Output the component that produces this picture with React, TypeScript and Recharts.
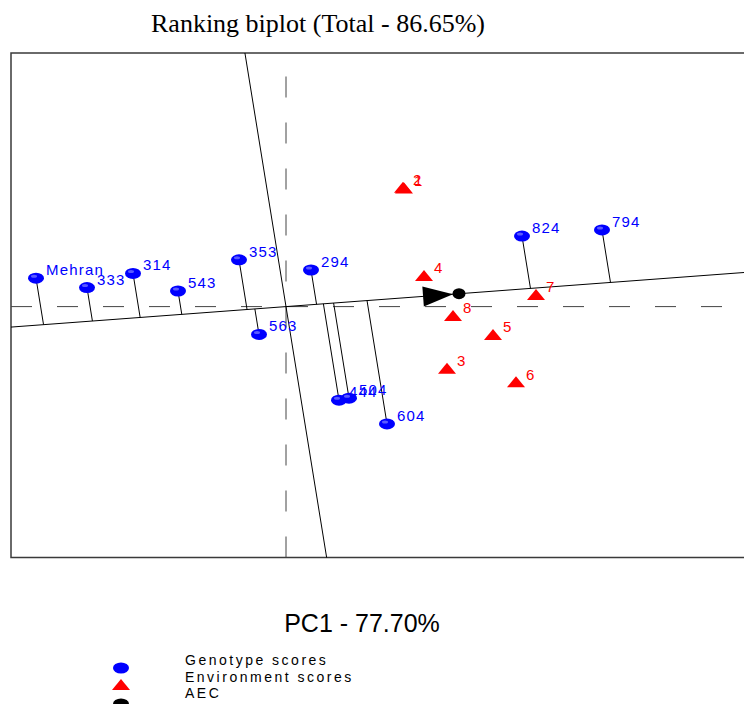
import React from "react"
import {
  ComposedChart,
  ReferenceArea,
  ReferenceLine,
  Scatter,
  XAxis,
  YAxis,
} from "recharts"

// scores (PC1, PC2)
const genotypeNames = ["Mehran", "333", "314", "543", "353", "563", "294", "444", "504", "604", "824", "794"]
const genotypePC1 = [-2.5, -1.99, -1.53, -1.08, -0.47, -0.27, 0.25, 0.53, 0.63, 1.01, 2.36, 3.16]
const genotypePC2 = [0.42, 0.28, 0.49, 0.23, 0.69, -0.41, 0.54, -1.38, -1.35, -1.73, 1.04, 1.13]

const envNames = ["1", "2", "3", "4", "5", "6", "7", "8"]
const envPC1 = [1.18, 1.17, 1.61, 1.38, 2.07, 2.3, 2.5, 1.67]
const envPC2 = [1.75, 1.76, -0.91, 0.46, -0.41, -1.11, 0.18, -0.13]

const aecPoint = { x: 1.73, y: 0.19 }

const xDomain = [-2.75, 6.14]
const yDomain = [-3.7, 3.74]

const genotypes = genotypeNames.map((name, i) => ({ name, x: genotypePC1[i], y: genotypePC2[i] }))
const environments = envNames.map((name, i) => ({ name, x: envPC1[i], y: envPC2[i] }))

// unit vector of the average environment axis
const aecLen = Math.hypot(aecPoint.x, aecPoint.y)
const ux = aecPoint.x / aecLen
const uy = aecPoint.y / aecLen
const aecSlope = aecPoint.y / aecPoint.x

const projections = genotypes.map((g) => {
  const t = g.x * ux + g.y * uy
  return [
    { x: g.x, y: g.y },
    { x: t * ux, y: t * uy },
  ]
})

const BLUE = "#0000ff"
const RED = "#ff0000"
const labelFont = "Arial, 'Liberation Sans', sans-serif"

const GenotypeDot = (props: any) => {
  const { cx, cy, payload } = props
  return (
    <g>
      <ellipse cx={cx} cy={cy} rx={8} ry={5.5} fill={BLUE} />
      <ellipse cx={cx - 2} cy={cy - 2} rx={3} ry={1.5} fill="#5a5aff" />
      <text x={cx + 10} y={cy - 3} fill={BLUE} fontSize={15} letterSpacing={1.2} fontFamily={labelFont}>
        {payload.name}
      </text>
    </g>
  )
}

const EnvTriangle = (props: any) => {
  const { cx, cy, payload } = props
  return (
    <g>
      <polygon points={`${cx},${cy - 5.5} ${cx + 9},${cy + 5.5} ${cx - 9},${cy + 5.5}`} fill={RED} />
      <text x={cx + 10} y={cy - 2} fill={RED} fontSize={15} letterSpacing={1.2} fontFamily={labelFont}>
        {payload.name}
      </text>
    </g>
  )
}

const AecMarker = (props: any) => {
  const { cx, cy } = props
  // arrow pointing along the AEC line (screen slope from the plot's scale ratio)
  const sx = 1
  const sy = -0.0758
  const n = Math.hypot(sx, sy)
  const dx = sx / n
  const dy = sy / n
  const tipX = cx - 6 * dx
  const tipY = cy - 6 * dy
  const bx = cx - 36 * dx
  const by = cy - 36 * dy
  const px = -dy * 10
  const py = dx * 10
  return (
    <g>
      <polygon points={`${tipX},${tipY} ${bx + px},${by + py} ${bx - px},${by - py}`} fill="#000" />
      <ellipse cx={cx} cy={cy} rx={6.5} ry={5.5} fill="#000" />
    </g>
  )
}

export default function App() {
  return (
    <div
      style={{
        position: "fixed",
        left: 8,
        top: 8,
        width: 736,
        height: 696,
        overflow: "hidden",
        background: "#fff",
      }}
    >
      <ComposedChart width={900} height={696} margin={{ top: 45, right: 8, left: 3, bottom: 146.5 }}>
        <XAxis type="number" dataKey="x" domain={xDomain} hide allowDataOverflow />
        <YAxis type="number" dataKey="y" domain={yDomain} hide allowDataOverflow />
        <ReferenceArea
          x1={xDomain[0]}
          x2={xDomain[1]}
          y1={yDomain[0]}
          y2={yDomain[1]}
          fill="none"
          stroke="#3a3a3a"
          strokeWidth={1.5}
          ifOverflow="visible"
        />
        <ReferenceLine x={0} stroke="#444" strokeDasharray="21 25" />
        <ReferenceLine y={0} stroke="#444" strokeDasharray="21 25" />
        <ReferenceLine
          segment={[
            { x: xDomain[0], y: xDomain[0] * aecSlope },
            { x: xDomain[1], y: xDomain[1] * aecSlope },
          ]}
          stroke="#000"
          ifOverflow="visible"
        />
        <ReferenceLine
          segment={[
            { x: -aecSlope * yDomain[1], y: yDomain[1] },
            { x: -aecSlope * yDomain[0], y: yDomain[0] },
          ]}
          stroke="#000"
          ifOverflow="visible"
        />
        {projections.map((seg, i) => (
          <ReferenceLine key={i} segment={seg} stroke="#000" ifOverflow="visible" />
        ))}
        <Scatter data={[aecPoint]} shape={AecMarker} isAnimationActive={false} />
        <Scatter data={environments} shape={EnvTriangle} isAnimationActive={false} />
        <Scatter data={genotypes} shape={GenotypeDot} isAnimationActive={false} />
      </ComposedChart>
      <svg
        width={736}
        height={696}
        style={{ position: "absolute", left: 0, top: 0, pointerEvents: "none" }}
      >
        <text x={310} y={24} textAnchor="middle" fontSize={26} fontFamily="'Liberation Serif', 'Times New Roman', serif" fill="#000">
          Ranking biplot (Total - 86.65%)
        </text>
        <text x={354} y={624} textAnchor="middle" fontSize={25} fontFamily={labelFont} fill="#000">
          PC1 - 77.70%
        </text>
        <ellipse cx={113} cy={660} rx={8} ry={5.5} fill={BLUE} />
        <polygon points="113,671 122,682 104,682" fill={RED} />
        <ellipse cx={113} cy={696} rx={8} ry={5.5} fill="#000" />
        <text x={177} y={657} fontSize={14} letterSpacing={2.5} fontFamily={labelFont} fill="#000">
          Genotype scores
        </text>
        <text x={177} y={674} fontSize={14} letterSpacing={2.5} fontFamily={labelFont} fill="#000">
          Environment scores
        </text>
        <text x={177} y={690} fontSize={14} letterSpacing={2.5} fontFamily={labelFont} fill="#000">
          AEC
        </text>
      </svg>
    </div>
  )
}
